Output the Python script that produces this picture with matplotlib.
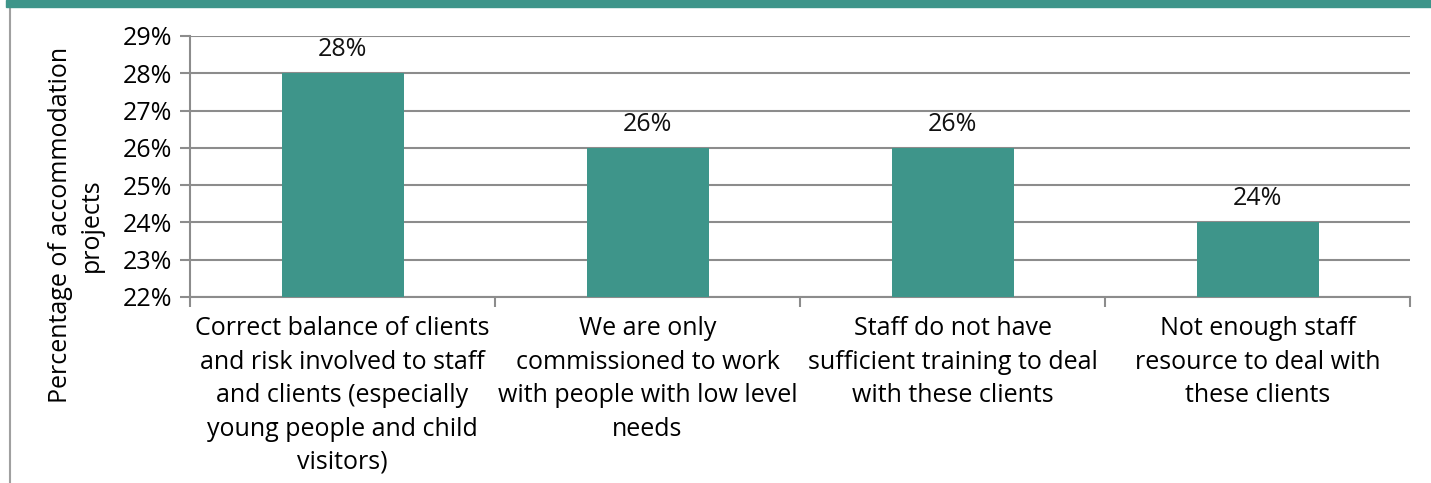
import matplotlib.pyplot as plt
from matplotlib.patches import Rectangle
from matplotlib.lines import Line2D
from matplotlib.ticker import FuncFormatter, MultipleLocator

# Reasons for not accepting clients, share of accommodation projects
categories = [
    "Correct balance of clients\nand risk involved to staff\nand clients (especially\nyoung people and child\nvisitors)",
    "We are only\ncommissioned to work\nwith people with low level\nneeds",
    "Staff do not have\nsufficient training to deal\nwith these clients",
    "Not enough staff\nresource to deal with\nthese clients",
]
values = [0.28, 0.26, 0.26, 0.24]
labels = ["28%", "26%", "26%", "24%"]

teal = "#3E958A"
grid_grey = "#8C8C8C"

plt.rcParams["font.family"] = ["Open Sans", "DejaVu Sans"]
fs = 18

fig = plt.figure(figsize=(14.31, 4.83), dpi=100)
W, H = 1431, 483
ax = fig.add_axes([190 / W, 1 - 297 / H, 1220 / W, (297 - 36) / H])

x = range(len(values))
ax.bar(x, values, width=0.4, color=teal, zorder=3)

for xi, v, lab in zip(x, values, labels):
    ax.annotate(lab, (xi, v), xytext=(0, 8), textcoords="offset points",
                ha="center", va="bottom", fontsize=fs, color="#111111", zorder=4)

ax.set_xlim(-0.5, len(values) - 0.5)
ax.set_ylim(0.22, 0.29)
ax.yaxis.set_major_locator(MultipleLocator(0.01))
ax.yaxis.set_major_formatter(FuncFormatter(lambda v, p: f"{round(v * 100)}%"))
ax.grid(axis="y", color=grid_grey, linewidth=1.5, zorder=0)
ax.set_axisbelow(True)

ax.set_xticks(list(x))
ax.set_xticklabels(categories, fontsize=fs, linespacing=1.44)
ax.tick_params(axis="x", length=0, pad=14)
# category boundary ticks below the axis
ax.set_xticks([i - 0.5 for i in range(len(values) + 1)], minor=True)
ax.tick_params(axis="x", which="minor", length=7, width=1.5, color=grid_grey)
ax.tick_params(axis="y", labelsize=fs, length=7, width=1.5, color=grid_grey, pad=6)

for side in ["top", "right"]:
    ax.spines[side].set_visible(False)
for side in ["left", "bottom"]:
    ax.spines[side].set_color(grid_grey)
    ax.spines[side].set_linewidth(1.5)

ax.set_ylabel("Percentage of accommodation\nprojects", fontsize=fs, linespacing=1.3)
ax.yaxis.set_label_coords(-(190 - 104) / 1220, (297 - 225) / (297 - 36))

# header band and frame
fig.add_artist(Rectangle((6 / W, 1 - 7 / H), 1, 7 / H, transform=fig.transFigure,
                         color=teal, zorder=5))
fig.add_artist(Line2D([9.5 / W, 9.5 / W], [0, 1 - 8 / H], transform=fig.transFigure,
                      color="#A0A0A0", linewidth=1.5))

fig.savefig("out.png", dpi=100)
